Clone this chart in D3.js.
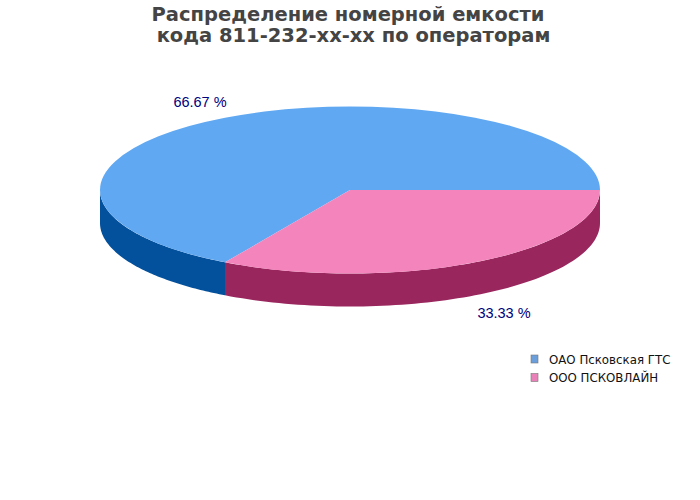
<!DOCTYPE html>
<html><head><meta charset="utf-8">
<script src="https://cdn.jsdelivr.net/npm/d3@7"></script>
<style>html,body{margin:0;padding:0;background:#fff}svg{display:block}</style>
</head><body>
<svg id="c" width="700" height="500"></svg>
<script>
const titleLines = ["Распределение номерной емкости", " кода 811-232-xx-xx по операторам"];
const categories = ["ОАО Псковская ГТС", "ООО ПСКОВЛАЙН"];
const values = [66.67, 33.33];
const valueLabels = ["66.67 %", "33.33 %"];
const topColors = ["#60a8f2", "#f484bc"];
const sideColors = ["#03509c", "#9a265e"];
const legendColors = ["#6a9fdc", "#ea80b8"];

const svg = d3.select("#c");
const cx = 350, cy = 190, rx = 250, ry = 83.5, depth = 33;
const pie = d3.pie().sort(null).startAngle(Math.PI/2 + 2*Math.PI/3).endAngle(Math.PI/2 + 2*Math.PI/3 + 2*Math.PI);
const arcs = pie(values);
const arc = d3.arc().innerRadius(0).outerRadius(rx);
const px = a => cx + rx*Math.sin(a), py = a => cy - ry*Math.cos(a);

// Visible wall spans d3 angles PI/2..3PI/2 (front of the ellipse)
const wall = d3.line();
arcs.forEach((d,i)=>{
  const segs = [[d.startAngle,d.endAngle],[d.startAngle+2*Math.PI,d.endAngle+2*Math.PI],[d.startAngle-2*Math.PI,d.endAngle-2*Math.PI]];
  segs.forEach(([s,e])=>{
    const a0=Math.max(s,Math.PI/2), a1=Math.min(e,3*Math.PI/2);
    if(a1<=a0) return;
    const n=80, as=d3.range(n+1).map(k=>a0+(a1-a0)*k/n);
    const pts=as.map(a=>[px(a),py(a)]).concat(as.slice().reverse().map(a=>[px(a),py(a)+depth]));
    svg.append("path").attr("d",wall(pts)+"Z").attr("fill",sideColors[i]);
  });
});
const g = svg.append("g").attr("transform",`translate(${cx},${cy}) scale(1,${ry/rx})`);
g.selectAll("path").data(arcs).join("path").attr("d",arc).attr("fill",(d,i)=>topColors[i]);

const title = svg.append("text").attr("text-anchor","middle")
  .attr("font-family","DejaVu Sans").attr("font-weight","bold").attr("font-size",19.5).attr("fill","#444444");
title.append("tspan").attr("x",348).attr("y",21).text(titleLines[0]);
title.append("tspan").attr("x",353.5).attr("y",42).text(titleLines[1].trim());

const labelPos=[[200,107],[504,318]];
svg.selectAll("text.v").data(valueLabels).join("text").attr("class","v")
  .attr("x",(d,i)=>labelPos[i][0]).attr("y",(d,i)=>labelPos[i][1])
  .attr("text-anchor","middle").attr("font-family","Liberation Sans").attr("font-size",14.5).attr("fill","#000080")
  .text(d=>d);

const lg = svg.selectAll("g.l").data(categories).join("g").attr("class","l")
  .attr("transform",(d,i)=>`translate(531,${359+i*18.5})`);
lg.append("rect").attr("x",0).attr("y",-4).attr("width",7).attr("height",8)
  .attr("fill",(d,i)=>legendColors[i]).attr("stroke","#777").attr("stroke-width",0.6);
lg.append("text").attr("x",18).attr("y",4.5).attr("font-family","DejaVu Sans").attr("font-size",11.8).attr("fill","#111").text(d=>d);
</script>
</body></html>
